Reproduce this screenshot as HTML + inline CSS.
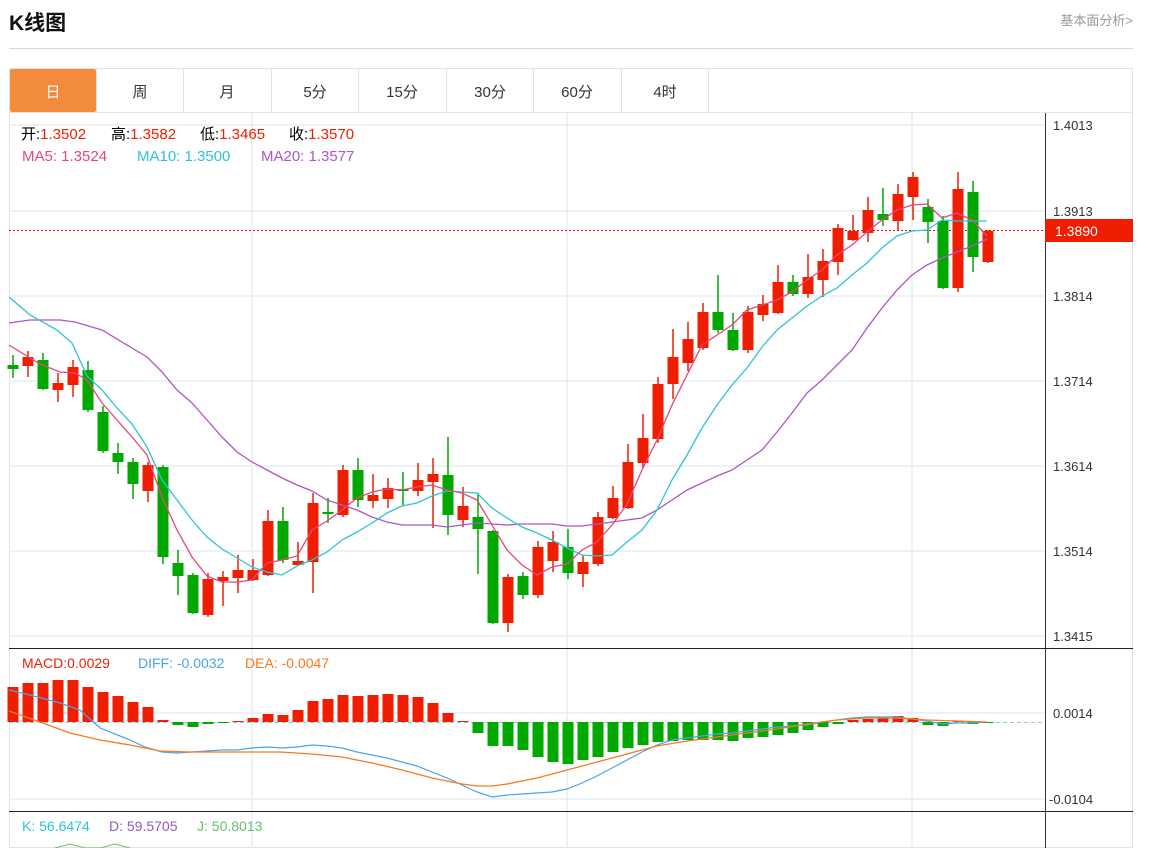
<!DOCTYPE html>
<html><head><meta charset="utf-8"><style>
body{margin:0;background:#fff;width:1150px;height:848px;overflow:hidden;font-family:"Liberation Sans","Noto Sans CJK SC",sans-serif}
svg text{font-family:"Liberation Sans","Noto Sans CJK SC",sans-serif}
</style></head><body>
<svg width="1150" height="848" xmlns="http://www.w3.org/2000/svg">
<text x="9" y="30" font-size="21" font-weight="bold" fill="#111">K线图</text>
<text x="1133" y="25" font-size="13" fill="#999" text-anchor="end">基本面分析&gt;</text>
<line x1="9" y1="48.5" x2="1133" y2="48.5" stroke="#d8d8d8"/>
<rect x="9.5" y="68.5" width="1123" height="779" fill="none" stroke="#e3e3e3"/>
<line x1="9" y1="112.5" x2="1133" y2="112.5" stroke="#e3e3e3"/>
<rect x="10" y="69" width="86" height="43" fill="#f28c3c" rx="2"/>
<g stroke="#e3e3e3"><line x1="96.5" y1="69" x2="96.5" y2="112"/><line x1="183.5" y1="69" x2="183.5" y2="112"/><line x1="271.5" y1="69" x2="271.5" y2="112"/><line x1="358.5" y1="69" x2="358.5" y2="112"/><line x1="446.5" y1="69" x2="446.5" y2="112"/><line x1="533.5" y1="69" x2="533.5" y2="112"/><line x1="621.5" y1="69" x2="621.5" y2="112"/><line x1="708.5" y1="69" x2="708.5" y2="112"/></g>
<g font-size="15" text-anchor="middle" fill="#333"><text x="53" y="97" fill="#fff">日</text><text x="140" y="97">周</text><text x="227" y="97">月</text><text x="315" y="97">5分</text><text x="402" y="97">15分</text><text x="490" y="97">30分</text><text x="577" y="97">60分</text><text x="665" y="97">4时</text></g>
<g stroke="#e6edf3" stroke-width="1.5">
<line x1="9" y1="125" x2="1045" y2="125"/><line x1="9" y1="211" x2="1045" y2="211"/><line x1="9" y1="296" x2="1045" y2="296"/><line x1="9" y1="381" x2="1045" y2="381"/><line x1="9" y1="466" x2="1045" y2="466"/><line x1="9" y1="551" x2="1045" y2="551"/><line x1="9" y1="636" x2="1045" y2="636"/>
<line x1="9" y1="713" x2="1045" y2="713"/><line x1="9" y1="799" x2="1045" y2="799"/>
<line x1="252" y1="113" x2="252" y2="848"/><line x1="567" y1="113" x2="567" y2="848"/><line x1="912" y1="113" x2="912" y2="848"/>
</g>
<line x1="1045.5" y1="113" x2="1045.5" y2="848" stroke="#333"/>
<line x1="9" y1="648.5" x2="1133" y2="648.5" stroke="#222"/>
<line x1="9" y1="811.5" x2="1133" y2="811.5" stroke="#222"/>
<g font-size="13" fill="#333"><text x="1053" y="130">1.4013</text><text x="1053" y="216">1.3913</text><text x="1053" y="301">1.3814</text><text x="1053" y="386">1.3714</text><text x="1053" y="471">1.3614</text><text x="1053" y="556">1.3514</text><text x="1053" y="641">1.3415</text><text x="1053" y="718">0.0014</text><text x="1049" y="804">-0.0104</text></g>
<line x1="9" y1="230.5" x2="1045" y2="230.5" stroke="#f01" stroke-dasharray="2,2"/>
<rect x="1045" y="219" width="88" height="23" fill="#f01e00"/>
<text x="1055" y="236" font-size="14" fill="#fff">1.3890</text>
<line x1="9" y1="722.5" x2="1045" y2="722.5" stroke="#9cc3e0" stroke-dasharray="4,3"/>
<g font-size="15">
<text x="21" y="139" fill="#000">开:<tspan fill="#f01e00">1.3502</tspan></text>
<text x="111" y="139" fill="#000">高:<tspan fill="#f01e00">1.3582</tspan></text>
<text x="200" y="139" fill="#000">低:<tspan fill="#f01e00">1.3465</tspan></text>
<text x="289" y="139" fill="#000">收:<tspan fill="#f01e00">1.3570</tspan></text>
<text x="22" y="161" fill="#e8457c">MA5: 1.3524</text>
<text x="137" y="161" fill="#2bc4d8">MA10: 1.3500</text>
<text x="261" y="161" fill="#ad55c8">MA20: 1.3577</text>
</g>
<g font-size="14">
<text x="22" y="668" fill="#f01e00">MACD:0.0029</text>
<text x="138" y="668" fill="#4aa3ee">DIFF: -0.0032</text>
<text x="245" y="668" fill="#f57a20">DEA: -0.0047</text>
<text x="22" y="831" fill="#2bc4d8">K: 56.6474</text>
<text x="109" y="831" fill="#8d5ac8">D: 59.5705</text>
<text x="197" y="831" fill="#6bbf6b">J: 50.8013</text>
</g>
<polyline fill="none" stroke="#6bbf6b" points="55,848 70,844 85,848 100,848 115,844 130,848"/>
<g id="c"></g>
<polyline fill="none" stroke="#ad55c8" stroke-width="1.3" points="9,323 30,320 60,320 75,322 102,330 132,348 147,357 162,372 177,390 192,403 207,420 222,437 237,452 252,462 267,470 282,478 297,485 312,491 327,500 342,505 357,510 372,517 387,522 402,525 417,525 432,525 447,527 462,525 477,523 492,524 507,525 522,524 537,524 552,524 567,526 582,526 597,524 612,522 627,520 642,518 657,510 672,500 687,490 702,483 717,476 732,470 747,460 762,450 777,432 792,413 807,393 822,380 837,365 852,350 867,328 882,308 897,290 912,275 927,265 942,258 957,252 972,246 987,239"/>
<polyline fill="none" stroke="#2bc4d8" stroke-width="1.3" points="9,297 30,315 57,330 72,343 87,376 102,390 117,408 132,424 147,447 162,480 177,500 192,520 207,537 222,549 237,558 252,567 267,572 282,575 297,566 312,560 327,552 342,540 357,532 372,523 387,513 402,506 417,503 432,496 447,491 462,492 477,493 492,508 507,518 522,527 537,533 552,540 567,548 582,555 597,556 612,555 627,542 642,530 657,510 672,480 687,455 702,428 717,405 732,385 747,368 762,347 777,330 792,318 807,306 822,296 837,288 852,275 867,263 882,248 897,236 912,231 927,230 942,220 957,221 972,221 987,221"/>
<polyline fill="none" stroke="#e8457c" stroke-width="1.3" points="9,345 40,364 60,372 75,373 87,380 102,403 117,420 132,437 147,455 162,497 177,530 192,557 207,576 222,582 237,582 252,580 267,563 282,560 297,556 312,530 327,521 342,510 357,498 372,492 387,489 402,490 417,487 432,485 447,490 462,493 477,500 492,525 507,550 522,565 537,575 552,567 567,564 582,550 597,542 612,525 627,504 642,470 657,440 672,405 687,375 702,345 717,335 732,325 747,310 762,305 777,300 792,292 807,280 822,270 837,255 852,245 867,232 882,220 897,210 912,205 927,204 942,218 957,213 972,220 987,236"/>
<polyline fill="none" stroke="#4aa3ee" stroke-width="1.2" points="9,690 30,695 60,703 80,710 100,728 130,740 145,747 162,752 177,753 192,752 207,751 222,750 237,750 252,748 267,747 282,748 297,747 312,745 327,746 342,748 357,752 372,755 387,758 402,762 417,766 432,772 447,778 462,785 477,792 492,797 507,795 522,794 537,793 552,792 567,789 582,783 597,776 612,768 627,760 642,752 657,745 672,740 687,738 702,736 717,734 732,733 747,731 762,729 777,727 792,726 807,725 822,722 837,720 852,718 867,717 882,717 897,717 912,719 927,721 942,724 957,723 972,723 987,722"/>
<polyline fill="none" stroke="#f57a20" stroke-width="1.3" points="9,711 40,722 70,733 100,740 130,745 160,751 190,752 220,752 252,752 280,752 312,754 342,757 372,763 402,770 432,778 462,784 477,786 492,786 507,784 537,778 567,770 597,762 627,754 657,746 687,741 717,737 747,733 777,729 807,724 837,720 867,718 897,718 927,720 957,721 987,722"/>
</svg>
<script>
var C=[[1,365,369,355,378],[0,357,366,351,377],[1,360,389,353,390],[0,383,390,373,402],[0,367,385,360,397],[1,370,410,361,412],[1,412,451,406,453],[1,453,462,443,474],[1,462,484,458,499],[0,465,491,462,502],[1,467,557,465,564],[1,563,576,550,595],[1,575,613,573,614],[0,579,615,573,617],[0,577,581,571,606],[0,570,578,555,593],[0,570,580,559,581],[0,521,575,510,576],[1,521,560,507,563],[0,561,565,542,566],[0,503,562,493,593],[1,512,514,498,523],[0,470,515,465,517],[1,470,500,458,507],[0,495,501,474,508],[0,488,499,478,508],[1,489,491,472,506],[0,480,491,463,496],[0,474,482,458,528],[1,475,515,437,535],[0,506,520,487,527],[1,517,529,493,574],[1,531,623,530,624],[0,577,623,574,632],[1,576,595,572,599],[0,547,595,541,598],[0,542,561,531,572],[1,547,573,529,579],[0,562,574,555,587],[0,517,564,512,566],[0,498,518,486,519],[0,462,508,444,509],[0,438,463,414,468],[0,384,439,377,443],[0,357,384,329,399],[0,339,363,322,371],[0,312,348,303,350],[1,312,330,275,333],[1,330,350,313,351],[0,312,350,306,353],[0,304,315,295,321],[0,282,313,265,314],[1,282,294,275,296],[0,277,294,254,298],[0,261,280,249,297],[0,228,262,224,275],[0,231,240,215,241],[0,210,233,197,242],[1,214,220,188,226],[0,194,221,184,231],[0,177,197,172,220],[1,207,222,199,243],[1,221,288,216,289],[0,189,288,172,292],[1,192,257,181,272],[0,231,262,230,263]];
var M=[687,683,683,680,680,687,692,696,702,707,720,725,727,724,723,721,718,714,715,710,701,699,695,696,695,694,695,697,703,713,721,733,746,746,750,757,762,764,760,757,752,748,745,742,741,740,740,740,741,738,737,735,733,730,727,724,720,719,717,716,718,725,726,721,724,722];
var s='';
C.forEach(function(c,i){var x=13+i*15,col=c[0]?'#00a800':'#f01e00';s+='<line x1="'+x+'" x2="'+x+'" y1="'+c[3]+'" y2="'+c[4]+'" stroke="'+col+'" stroke-width="1.5"/><rect x="'+(x-5.5)+'" y="'+c[1]+'" width="11" height="'+Math.max(2,c[2]-c[1])+'" fill="'+col+'"/>';});
M.forEach(function(m,i){var x=13+i*15,z=722,col=m<z?'#f01e00':'#00a800';var y=Math.min(m,z),h=Math.max(1,Math.abs(m-z));s+='<rect x="'+(x-5.5)+'" y="'+y+'" width="11" height="'+h+'" fill="'+col+'"/>';});
document.getElementById('c').innerHTML=s;
</script>
</body></html>
